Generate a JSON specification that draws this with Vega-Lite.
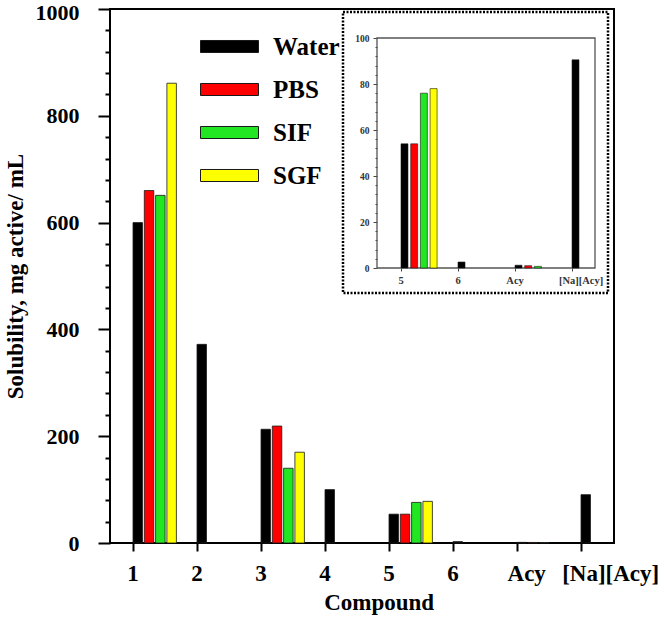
{
  "$schema": "https://vega.github.io/schema/vega-lite/v6.json",
  "width": 504,
  "height": 534,
  "autosize": {"type": "none"},
  "padding": {"left": 110, "top": 9, "right": 52, "bottom": 76},
  "background": "white",
  "config": {
    "view": {"stroke": "black", "strokeWidth": 2},
    "font": "Liberation Serif"
  },
  "datasets": {
    "sol": [
      {"compound": "1", "medium": "Water", "value": 600},
      {"compound": "1", "medium": "PBS", "value": 660},
      {"compound": "1", "medium": "SIF", "value": 651},
      {"compound": "1", "medium": "SGF", "value": 861},
      {"compound": "2", "medium": "Water", "value": 372},
      {"compound": "3", "medium": "Water", "value": 213},
      {"compound": "3", "medium": "PBS", "value": 219},
      {"compound": "3", "medium": "SIF", "value": 140},
      {"compound": "3", "medium": "SGF", "value": 170},
      {"compound": "4", "medium": "Water", "value": 100},
      {"compound": "5", "medium": "Water", "value": 54},
      {"compound": "5", "medium": "PBS", "value": 54},
      {"compound": "5", "medium": "SIF", "value": 76},
      {"compound": "5", "medium": "SGF", "value": 78},
      {"compound": "6", "medium": "Water", "value": 2.6},
      {"compound": "Acy", "medium": "Water", "value": 1.2},
      {"compound": "Acy", "medium": "PBS", "value": 1.0},
      {"compound": "Acy", "medium": "SIF", "value": 0.7},
      {"compound": "[Na][Acy]", "medium": "Water", "value": 90.5}
    ],
    "box": [{"a0": 0, "a1": 1, "b0": 0, "b1": 1}]
  },
  "resolve": {"scale": {"x": "independent", "y": "independent", "xOffset": "independent"}},
  "layer": [
    {
      "data": {"name": "sol"},
      "mark": {"type": "bar", "stroke": "#1a1a1a", "strokeWidth": 0.8},
      "encoding": {
        "x": {
          "field": "compound", "type": "nominal",
          "sort": ["1", "2", "3", "4", "5", "6", "Acy", "[Na][Acy]"],
          "scale": {"domain": ["1", "2", "3", "4", "5", "6", "Acy", "[Na][Acy]"], "range": [23, 514.4], "paddingInner": 0.322, "paddingOuter": 0},
          "axis": {
            "bandPosition": 0, "domain": false, "grid": false, "labelAngle": 0,
            "tickSize": 8, "tickWidth": 2, "tickColor": "black",
            "labelFont": "Liberation Serif", "labelFontWeight": "bold", "labelFontSize": 23, "labelColor": "black", "labelPadding": 11,
            "labelOffset": {"condition": [{"test": "datum.value === 'Acy'", "value": -12}, {"test": "datum.value === '[Na][Acy]'", "value": 8}], "value": -21.7},
            "title": "Compound", "titleFont": "Liberation Serif", "titleFontWeight": "bold", "titleFontSize": 23, "titleColor": "black", "titlePadding": 6
          }
        },
        "xOffset": {
          "field": "medium", "type": "nominal",
          "scale": {"domain": ["Water", "PBS", "SIF", "SGF"], "paddingInner": 0.16, "paddingOuter": 0}
        },
        "y": {
          "field": "value", "type": "quantitative",
          "scale": {"domain": [0, 1000], "nice": false},
          "axis": {
            "values": [0, 40, 80, 120, 160, 200, 240, 280, 320, 360, 400, 440, 480, 520, 560, 600, 640, 680, 720, 760, 800, 840, 880, 920, 960, 1000],
            "format": "d",
            "labelExpr": "datum.value % 200 === 0 ? datum.label : ''",
            "labelOverlap": false,
            "labelOffset": {"condition": {"test": "datum.value === 1000", "value": 3}, "value": 0},
            "tickSize": {"condition": {"test": "datum.value % 200 === 0", "value": 12}, "value": 5},
            "tickWidth": 2, "tickColor": "black", "domain": false, "grid": false,
            "labelFont": "Liberation Serif", "labelFontWeight": "bold", "labelFontSize": 22, "labelColor": "black", "labelPadding": 19,
            "title": "Solubility, mg active/ mL", "titleFont": "Liberation Serif", "titleFontWeight": "bold", "titleFontSize": 23, "titleColor": "black", "titlePadding": 8
          }
        },
        "color": {
          "field": "medium", "type": "nominal",
          "scale": {"domain": ["Water", "PBS", "SIF", "SGF"], "range": ["#000000", "#ff0000", "#22e622", "#ffff00"]},
          "legend": {
            "orient": "none", "legendX": 90, "legendY": 8, "title": null,
            "symbolType": "M-1,-0.207L1,-0.207L1,0.207L-1,0.207Z", "symbolSize": 3364,
            "symbolStrokeColor": "#1a1a1a", "symbolStrokeWidth": 1, "symbolOpacity": 1,
            "labelFont": "Liberation Serif", "labelFontWeight": "bold", "labelFontSize": 25, "labelColor": "black",
            "labelOffset": 14, "rowPadding": -10
          }
        }
      }
    },
    {
      "data": {"name": "box"},
      "mark": {"type": "rect", "filled": false, "stroke": "black", "strokeWidth": 2.5, "strokeDash": [2, 1.5]},
      "encoding": {
        "x": {"field": "a0", "type": "quantitative", "scale": {"domain": [0, 1], "range": [233, 498], "nice": false, "zero": false}, "axis": null},
        "x2": {"field": "a1"},
        "y": {"field": "b0", "type": "quantitative", "scale": {"domain": [0, 1], "range": [284, 3], "nice": false, "zero": false}, "axis": null},
        "y2": {"field": "b1"}
      }
    },
    {
      "data": {"name": "box"},
      "mark": {"type": "rect", "filled": false, "stroke": "#555555", "strokeWidth": 1.3},
      "encoding": {
        "x": {"field": "a0", "type": "quantitative", "scale": {"domain": [0, 1], "range": [267, 485], "nice": false, "zero": false}, "axis": null},
        "x2": {"field": "a1"},
        "y": {"field": "b0", "type": "quantitative", "scale": {"domain": [0, 1], "range": [259, 29], "nice": false, "zero": false}, "axis": null},
        "y2": {"field": "b1"}
      }
    },
    {
      "data": {"name": "sol"},
      "transform": [{"filter": {"field": "compound", "oneOf": ["5", "6", "Acy", "[Na][Acy]"]}}],
      "mark": {"type": "bar", "stroke": "#1a1a1a", "strokeWidth": 0.6},
      "encoding": {
        "x": {
          "field": "compound", "type": "nominal",
          "sort": ["5", "6", "Acy", "[Na][Acy]"],
          "scale": {"domain": ["5", "6", "Acy", "[Na][Acy]"], "range": [291, 498.1], "paddingInner": 0.367, "paddingOuter": 0},
          "axis": {
            "orient": "bottom", "offset": -275, "bandPosition": 0, "domain": false, "grid": false, "labelAngle": 0,
            "tickSize": 3, "tickWidth": 1, "tickColor": "#444444",
            "labelFont": "Liberation Serif", "labelFontWeight": "bold", "labelFontSize": 10.5, "labelColor": "#333333", "labelPadding": 4,
            "labelOffset": {"condition": {"test": "datum.value === '[Na][Acy]'", "value": -9}, "value": -18},
            "title": null
          }
        },
        "xOffset": {
          "field": "medium", "type": "nominal",
          "scale": {"domain": ["Water", "PBS", "SIF", "SGF"], "paddingInner": 0.28, "paddingOuter": 0}
        },
        "y": {
          "field": "value", "type": "quantitative",
          "scale": {"domain": [0, 100], "nice": false, "range": [259, 29]},
          "axis": {
            "orient": "left", "offset": -267,
            "values": [0, 4, 8, 12, 16, 20, 24, 28, 32, 36, 40, 44, 48, 52, 56, 60, 64, 68, 72, 76, 80, 84, 88, 92, 96, 100],
            "labelExpr": "datum.value % 20 === 0 ? datum.label : ''",
            "labelOverlap": false,
            "tickSize": {"condition": {"test": "datum.value % 20 === 0", "value": 4}, "value": 2},
            "tickWidth": 1, "tickColor": "#444444", "domain": false, "grid": false,
            "labelFont": "Liberation Serif", "labelFontWeight": "bold", "labelFontSize": 9.5, "labelColor": "#333333", "labelPadding": 4,
            "title": null
          }
        },
        "color": {"field": "medium", "type": "nominal"}
      }
    }
  ]
}
